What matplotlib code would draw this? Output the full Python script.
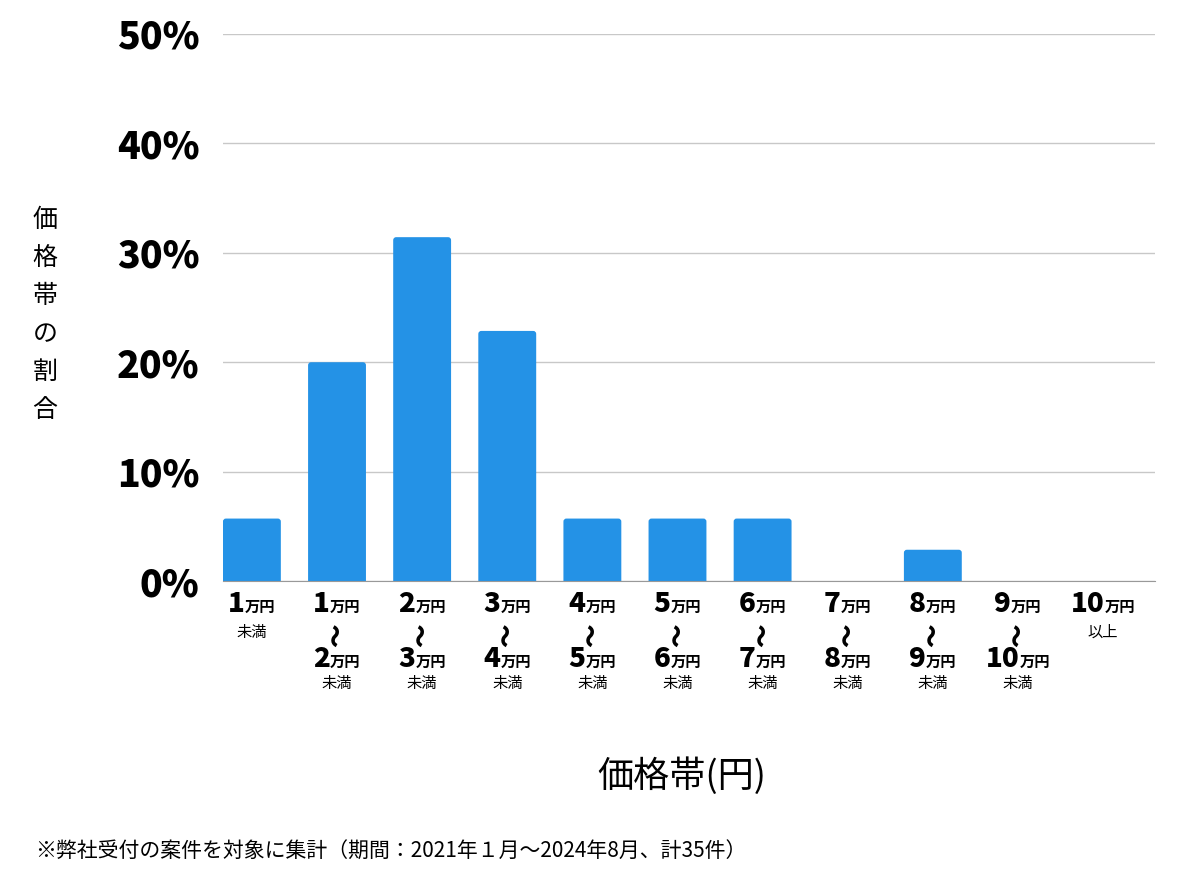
import matplotlib
matplotlib.use('Agg')
import matplotlib.pyplot as plt
from matplotlib.patches import FancyBboxPatch
from matplotlib.offsetbox import TextArea, HPacker, AnnotationBbox

plt.rcParams['font.family'] = ['Noto Sans CJK JP', 'DejaVu Sans']

lower = [None, '1', '2', '3', '4', '5', '6', '7', '8', '9', '10']
upper = ['1', '2', '3', '4', '5', '6', '7', '8', '9', '10', None]
values = [5.71, 20.0, 31.43, 22.86, 5.71, 5.71, 5.71, 0.0, 2.86, 0.0, 0.0]
yticks = [0, 10, 20, 30, 40, 50]
ytick_labels = ['0%', '10%', '20%', '30%', '40%', '50%']

fig = plt.figure(figsize=(12, 8.74), dpi=100)
ax = fig.add_axes([0.1858, 0.3352, 0.7767, 0.6259])

x = list(range(len(values)))
bars = ax.bar(x, values, width=0.68, color='#2492E6', zorder=3)
# replace with rounded-top versions
for b in bars:
    h = b.get_height()
    if h <= 0:
        b.set_visible(False)
        continue
    p = FancyBboxPatch((b.get_x(), -0.6), b.get_width(), h + 0.6,
                       boxstyle='round,pad=0,rounding_size=0.035',
                       mutation_aspect=7.77, facecolor='#2492E6', edgecolor='none',
                       zorder=3)
    ax.add_patch(p)
    b.set_visible(False)

ax.set_ylim(0, 50)
ax.set_xlim(-0.34, 10.61)
ax.set_yticks(yticks)
ax.set_yticklabels(ytick_labels, fontsize=27, fontweight='black')
ax.tick_params(axis='y', length=0, pad=17)
ax.tick_params(axis='x', length=0, labelbottom=False)
ax.grid(axis='y', color='#c8c8c8', lw=1, zorder=0)
for s in ['top', 'right', 'left']:
    ax.spines[s].set_visible(False)
ax.spines['bottom'].set_color('#999999')
ax.spines['bottom'].set_zorder(4)

def money(i, num, dy):
    a = TextArea(num, textprops=dict(fontsize=20, fontweight='black', color='black'))
    b = TextArea('万円', textprops=dict(fontsize=11, fontweight='bold', color='black'))
    box = HPacker(children=[a, b], align='baseline', pad=0, sep=0)
    ab = AnnotationBbox(box, (i, 0), xycoords=('data', 'axes fraction'),
                        xybox=(0, dy), boxcoords='offset points',
                        box_alignment=(0.5, 0.5), frameon=False, pad=0)
    ax.add_artist(ab)

def small(i, t, dy):
    ax.annotate(t, (i, 0), xycoords=('data', 'axes fraction'), xytext=(0, dy),
                textcoords='offset points', ha='center', va='center', fontsize=11)

def wave(i, dy):
    ax.annotate('〜', (i, 0), xycoords=('data', 'axes fraction'), xytext=(0, dy),
                textcoords='offset points', ha='center', va='center', fontsize=17,
                fontweight='black', rotation=90, rotation_mode='anchor')

for i in x:
    lo, up = lower[i], upper[i]
    if lo is None:
        money(i, up, -16)
        small(i, '未満', -37)
    elif up is None:
        money(i, lo, -16)
        small(i, '以上', -37)
    else:
        money(i, lo, -16)
        wave(i, -39)
        money(i, up, -56)
        small(i, '未満', -74)

fig.text(0.0375, 0.640, '価\n格\n帯\nの\n割\n合', fontsize=18, ha='center', va='center',
         linespacing=1.6)
fig.text(0.568, 0.112, '価格帯(円)', fontsize=26, ha='center', va='center')
fig.text(0.029, 0.025, '※弊社受付の案件を対象に集計（期間：2021年１月〜2024年8月、計35件）',
         fontsize=15, ha='left', va='center')

fig.savefig('out.png', dpi=100)
